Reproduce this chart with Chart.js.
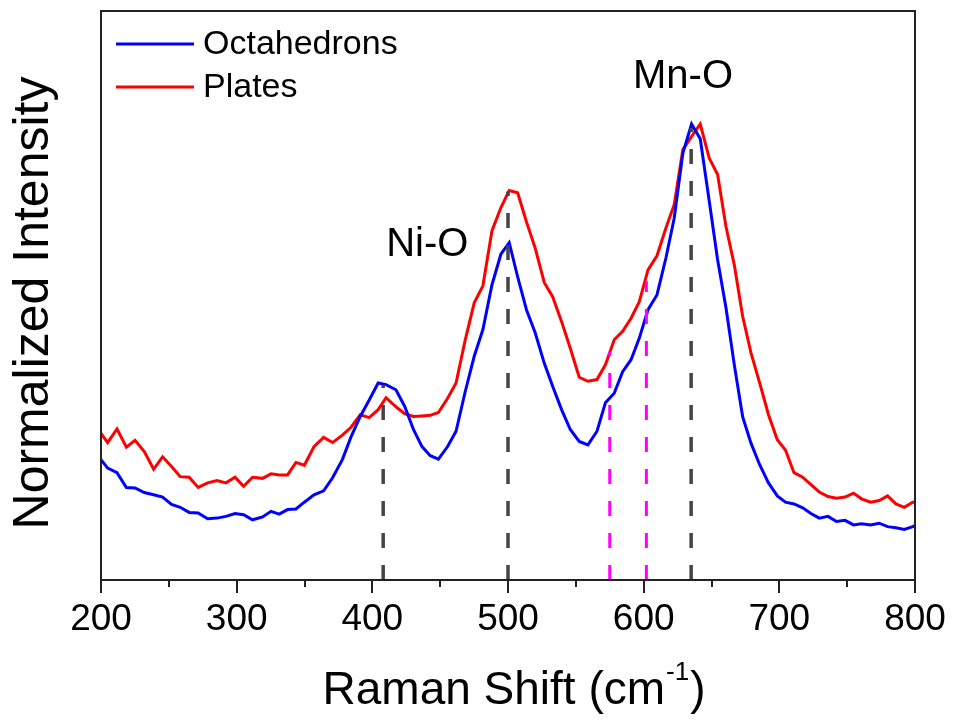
<!DOCTYPE html>
<html>
<head>
<meta charset="utf-8">
<script src="https://cdn.jsdelivr.net/npm/chart.js@4.4.0/dist/chart.umd.min.js"></script>
<style>
  html, body { margin: 0; padding: 0; background: #fff; }
</style>
</head>
<body>
<canvas id="graficoRaman" width="955" height="725"></canvas>
<script>
// Raman shift (cm-1)
const ramanShift = [200, 204.9, 211.8, 218.7, 225.1, 231.9, 238.8, 245.4, 252.0, 258.4,
  265.0, 271.6, 278.6, 285.5, 292.1, 298.8, 305.1, 311.7, 319.1, 325.3,
  331.4, 337.5, 343.7, 349.9, 357.0, 364.1, 370.7, 377.9, 384.3, 391.1,
  397.7, 404.3, 410.1, 417.4, 423.8, 430.3, 436.6, 442.7, 448.7, 455.5,
  461.7, 468.5, 475.1, 481.5, 488.2, 494.8, 500.9, 507.1, 513.6, 520.1,
  526.7, 532.9, 539.5, 545.9, 552.5, 558.9, 565.6, 571.8, 578.3, 584.5,
  590.7, 596.8, 603.2, 609.8, 616.4, 622.5, 628.9, 635.3, 641.7, 648.3,
  654.5, 660.7, 666.8, 673.0, 679.1, 685.5, 692.0, 698.5, 704.5, 710.8,
  717.2, 723.3, 729.4, 735.9, 742.1, 748.4, 754.7, 760.6, 767.3, 773.6,
  779.8, 785.9, 792.1, 798.3, 800];

const octahedrons = [20.8, 19.3, 18.5, 15.9, 15.8, 15.0, 14.6, 14.2, 12.9, 12.4,
  11.5, 11.4, 10.4, 10.5, 10.8, 11.3, 11.1, 10.2, 10.7, 11.7,
  11.2, 12.0, 12.1, 13.3, 14.6, 15.3, 17.6, 20.8, 24.8, 28.4,
  31.3, 34.3, 34.0, 33.1, 30.2, 26.1, 23.1, 21.5, 20.9, 23.1,
  25.8, 32.8, 39.0, 43.7, 51.6, 57.0, 59.0, 53.0, 47.2, 43.1,
  37.8, 33.7, 29.6, 26.1, 24.0, 23.4, 25.8, 30.8, 32.5, 36.3,
  38.4, 42.2, 47.2, 49.8, 56.3, 63.3, 74.8, 79.9, 77.3, 66.4,
  56.0, 47.5, 37.5, 28.3, 23.7, 19.9, 16.7, 14.4, 13.3, 13.0,
  12.3, 11.3, 10.5, 10.8, 9.9, 10.1, 9.3, 9.5, 9.3, 9.6,
  9.0, 8.8, 8.5, 9.0, 9.2];

const plates = [25.4, 23.8, 26.2, 23.0, 24.2, 22.2, 19.1, 21.3, 19.6, 17.8,
  17.7, 15.9, 16.7, 17.1, 16.7, 17.7, 16.1, 17.7, 17.5, 18.3,
  18.1, 18.1, 20.3, 19.8, 23.1, 24.7, 23.8, 25.1, 26.5, 28.7,
  28.2, 29.6, 31.7, 30.1, 28.9, 28.4, 28.5, 28.6, 29.1, 31.6,
  34.3, 41.9, 48.4, 51.4, 61.1, 65.2, 68.2, 67.8, 62.7, 58.0,
  52.0, 49.5, 45.1, 40.4, 35.3, 34.6, 34.9, 37.5, 41.9, 43.4,
  45.7, 48.6, 54.2, 56.7, 61.6, 65.7, 75.4, 77.7, 79.9, 73.9,
  71.0, 61.8, 55.1, 46.0, 39.6, 34.3, 28.7, 24.3, 22.5, 18.5,
  17.7, 16.4, 15.1, 14.3, 14.0, 14.2, 14.9, 13.9, 13.3, 13.6,
  14.4, 13.0, 12.4, 13.3, 13.3];

// dashed peak markers (position, height where they stop)
const picosCinza = [408, 500, 635];
const alturaCinza = [34.0, 68.0, 79.2];
const picosMagenta = [575, 602];
const alturaMagenta = [39.8, 52.2];

// peak labels
const rotulos = ['Ni-O', 'Mn-O'];
const rotulosX = [440.5, 629];
const rotulosY = [58.6, 88.1];

const ticksMenores = [250, 350, 450, 550, 650, 750];
const yMin = -0.4, yMax = 99.8;

const fonte = '"Liberation Sans", Arial, sans-serif';
Chart.defaults.font.family = fonte;

function serie(ys) {
  return ramanShift.map((x, i) => ({ x: x, y: ys[i] }));
}

function marcador(x, topo, cor, largura) {
  return {
    label: '',
    data: [{ x: x, y: yMin }, { x: x, y: topo }],
    borderColor: cor,
    borderWidth: largura,
    borderDash: [15, 17],
    pointRadius: 0,
    order: 0
  };
}

const datasets = [
  { label: 'Octahedrons', data: serie(octahedrons), borderColor: '#0000ff', borderWidth: 3, pointRadius: 0, order: 1 },
  { label: 'Plates', data: serie(plates), borderColor: '#ff0000', borderWidth: 3, pointRadius: 0, order: 2 }
];
picosCinza.forEach((p, i) => datasets.push(marcador(p, alturaCinza[i], '#444444', 3.5)));
picosMagenta.forEach((p, i) => datasets.push(marcador(p, alturaMagenta[i], '#ff00ff', 3)));

const extrasPlugin = {
  id: 'extras',
  afterDraw(chart) {
    const { ctx, chartArea: a, scales: { x, y } } = chart;
    ctx.save();
    // frame
    ctx.strokeStyle = '#222';
    ctx.lineWidth = 2;
    ctx.strokeRect(a.left, a.top, a.right - a.left, a.bottom - a.top);
    // minor ticks
    ctx.beginPath();
    ticksMenores.forEach(v => {
      const px = Math.round(x.getPixelForValue(v));
      ctx.moveTo(px, a.bottom);
      ctx.lineTo(px, a.bottom + 7);
    });
    ctx.stroke();

    // peak labels
    ctx.fillStyle = '#000';
    ctx.textAlign = 'center';
    ctx.textBaseline = 'middle';
    ctx.font = '40px ' + fonte;
    rotulos.forEach((t, i) => {
      ctx.fillText(t, x.getPixelForValue(rotulosX[i]), y.getPixelForValue(rotulosY[i]));
    });

    // legend
    ctx.font = '34px ' + fonte;
    ctx.textAlign = 'left';
    chart.data.datasets.slice(0, 2).forEach((ds, i) => {
      const ly = a.top + 33 + i * 43;
      ctx.strokeStyle = ds.borderColor;
      ctx.lineWidth = 3;
      ctx.beginPath();
      ctx.moveTo(a.left + 15, ly);
      ctx.lineTo(a.left + 93, ly);
      ctx.stroke();
      ctx.fillText(ds.label, a.left + 102, ly + 1);
    });

    // y title
    ctx.save();
    ctx.translate(34, 303);
    ctx.rotate(-Math.PI / 2);
    ctx.textAlign = 'center';
    ctx.font = '50px ' + fonte;
    ctx.fillText('Normalized Intensity', 0, 0);
    ctx.restore();

    // x title with superscript
    ctx.textBaseline = 'alphabetic';
    const principal = '46px ' + fonte, sobre = '26px ' + fonte;
    ctx.font = principal;
    const w1 = ctx.measureText('Raman Shift (cm').width;
    const w3 = ctx.measureText(')').width;
    ctx.font = sobre;
    const w2 = ctx.measureText('-1').width;
    let tx = 514 - (w1 + w2 + w3 + 2) / 2;
    const base = 704;
    ctx.font = principal;
    ctx.fillText('Raman Shift (cm', tx, base);
    tx += w1 + 1;
    ctx.font = sobre;
    ctx.fillText('-1', tx, base - 24);
    tx += w2 + 1;
    ctx.font = principal;
    ctx.fillText(')', tx, base);
    ctx.restore();
  }
};

new Chart(document.getElementById('graficoRaman'), {
  type: 'line',
  data: { datasets: datasets },
  options: {
    responsive: false,
    animation: false,
    layout: { padding: { top: 11, right: 40, left: 0, bottom: 0 } },
    plugins: {
      legend: { display: false },
      tooltip: { enabled: false }
    },
    scales: {
      x: {
        type: 'linear',
        min: 200,
        max: 800,
        afterFit: (scale) => { scale.height = 145; },
        ticks: {
          stepSize: 100,
          color: '#000',
          font: { size: 37 },
          padding: 5,
          maxRotation: 0
        },
        grid: { drawOnChartArea: false, drawTicks: true, tickLength: 13, color: '#222', lineWidth: 2 },
        border: { display: true, color: '#222', width: 2 }
      },
      y: {
        min: yMin,
        max: yMax,
        afterFit: (scale) => { scale.width = 101; },
        ticks: { display: false },
        grid: { display: false },
        border: { display: true, color: '#222', width: 2 }
      }
    }
  },
  plugins: [extrasPlugin]
});
</script>
</body>
</html>
